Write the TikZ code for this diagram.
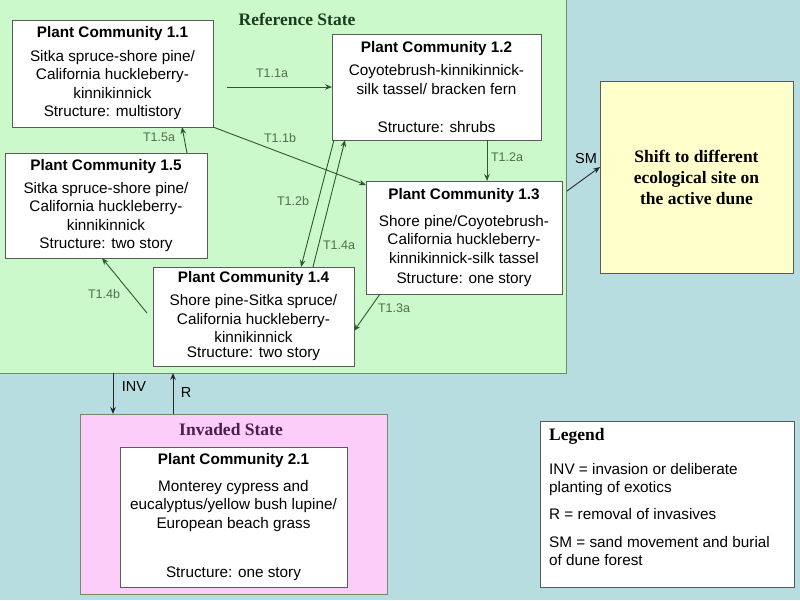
\documentclass[tikz,border=0pt]{standalone}
\usepackage{fontspec}
\setmainfont{Liberation Serif}
\setsansfont{Liberation Sans}
\usetikzlibrary{arrows.meta,calc}
\definecolor{bgblue}{RGB}{184,221,225}
\definecolor{refgreen}{RGB}{204,249,204}
\definecolor{invpink}{RGB}{253,205,250}
\definecolor{lightyel}{RGB}{255,255,204}
\definecolor{boxgray}{RGB}{90,90,90}
\definecolor{regborder}{RGB}{112,138,112}
\definecolor{arrowgreen}{RGB}{44,90,44}
\definecolor{lblgreen}{RGB}{80,110,80}
\definecolor{refdark}{RGB}{30,60,30}
\definecolor{invdark}{RGB}{75,30,75}
\tikzset{
  pcbox/.style={draw=boxgray, line width=0.9pt, fill=white, inner sep=0pt, outer sep=0pt,
    align=center, text=black, font=\sffamily\fontsize{15.3}{18.5}\selectfont},
  region/.style={inner sep=0pt, outer sep=0pt, anchor=north west},
  regtitle/.style={font=\rmfamily\bfseries\fontsize{17.5}{21}\selectfont, inner sep=0pt},
  trans/.style={draw=arrowgreen, line width=0.9pt, -{Stealth[length=7pt,width=5.5pt]}},
  blackarrow/.style={draw=black!85, line width=0.9pt, -{Stealth[length=7pt,width=5.5pt]}},
  tlabel/.style={font=\sffamily\fontsize{12.5}{14}\selectfont, text=lblgreen, inner sep=0pt},
  blabel/.style={font=\sffamily\fontsize{14.5}{16}\selectfont, text=black, inner sep=0pt}
}
\begin{document}
\begin{tikzpicture}[x=1pt,y=-1pt]
\useasboundingbox (0,0) rectangle (800,600);
\fill[bgblue] (0,0) rectangle (800,600);

% regions
\node[region, fill=refgreen, minimum width=566pt, minimum height=373pt] (ref) at (0,0) {};
\draw[regborder, line width=1pt] (ref.north east) -- (ref.south east) -- (ref.south west);
\node[region, fill=invpink, draw=regborder, line width=1pt, minimum width=307pt, minimum height=180pt] (inv) at (80,414) {};

\node[regtitle, text=refdark] (reftitle) at (297,19) {Reference State};
\node[regtitle, text=invdark] (invtitle) at (231,430) {Invaded State};

% plant community boxes
\node[pcbox, minimum width=201pt, minimum height=107pt] (pc11) at (112.5,73.5)
  {\textbf{Plant Community 1.1}\\[5pt] Sitka spruce-shore pine/\\ California huckleberry-\\ kinnikinnick\\ Structure: multistory};
\node[pcbox, minimum width=209pt, minimum height=106pt] (pc12) at (436.5,87)
  {\textbf{Plant Community 1.2}\\[4.5pt] Coyotebrush-kinnikinnick-\\ silk tassel/ bracken fern\\[19.5pt] Structure: shrubs};
\node[pcbox, minimum width=196pt, minimum height=113pt] (pc13) at (464,237.5)
  {\textbf{Plant Community 1.3}\\[8pt] Shore pine/Coyotebrush-\\ California huckleberry-\\ kinnikinnick-silk tassel\\[1.5pt] Structure: one story};
\node[pcbox, minimum width=202pt, minimum height=105pt] (pc15) at (106,205.5)
  {\textbf{Plant Community 1.5}\\[4.5pt] Sitka spruce-shore pine/\\ California huckleberry-\\ kinnikinnick\\ Structure: two story};
\node[pcbox, minimum width=201pt, minimum height=99pt] (pc14) at (253.5,316.5)
  {\textbf{Plant Community 1.4}\\[4.5pt] Shore pine-Sitka spruce/\\ California huckleberry-\\ kinnikinnick\\[-3.5pt] Structure: two story};
\node[pcbox, minimum width=227pt, minimum height=140pt] (pc21) at (233.5,517)
  {\textbf{Plant Community 2.1}\\[8.5pt] Monterey cypress and\\ eucalyptus/yellow bush lupine/\\ European beach grass\\[30.5pt] Structure: one story};

% shift box
\node[pcbox, fill=lightyel, minimum width=193pt, minimum height=192pt,
  font=\rmfamily\bfseries\fontsize{17.5}{21}\selectfont] (shift) at (696.5,177)
  {Shift to different\\ ecological site on\\ the active dune};

% legend
\node[pcbox, minimum width=254pt, minimum height=166pt] (legend) at (667,504) {};
\node[anchor=west, inner sep=0pt, font=\rmfamily\bfseries\fontsize{17.5}{21}\selectfont] (legtitle) at (549,436) {Legend};
\node[anchor=west, align=left, inner sep=0pt, font=\sffamily\fontsize{15.3}{18.5}\selectfont] (legbody) at (549,514.5)
  {INV = invasion or deliberate\\ planting of exotics\\[8.5pt] R = removal of invasives\\[9pt] SM = sand movement and burial\\ of dune forest};

% transitions
\coordinate (t11astart) at (227,87);
\draw[trans] (t11astart) -- (pc12.west);
\node[tlabel] (l11a) at (272,73) {T1.1a};

\draw[trans] (pc11.south east) -- ($(pc13.north west)+(0,4)$);
\node[tlabel] (l11b) at (280,138) {T1.1b};

\draw[trans] ($(pc15.north west)+(182,0)$) -- ($(pc11.south west)+(170,0)$);
\node[tlabel] (l15a) at (159,137) {T1.5a};

\draw[trans] ($(pc12.south west)+(155,0)$) -- ($(pc13.north west)+(121,0)$);
\node[tlabel] (l12a) at (507,157) {T1.2a};

\draw[trans] ($(pc12.south west)+(2,0)$) -- ($(pc14.north west)+(148,0)$);
\node[tlabel] (l12b) at (293,201) {T1.2b};

\draw[trans] ($(pc14.north west)+(160,0)$) -- ($(pc12.south west)+(13,0)$);
\node[tlabel] (l14a) at (339,245) {T1.4a};

\draw[trans] ($(pc13.south west)+(14,0)$) -- ($(pc14.north east)+(0,64)$);
\node[tlabel] (l13a) at (394,308) {T1.3a};

\coordinate (t14bstart) at (147,313);
\draw[trans] (t14bstart) -- ($(pc15.south west)+(97,0)$);
\node[tlabel] (l14b) at (104,294) {T1.4b};

% SM
\draw[blackarrow] ($(pc13.north east)+(5,10)$) -- ($(shift.west)+(0,-10)$);
\node[blabel] (lsm) at (586,159) {SM};

% INV / R
\draw[blackarrow] ($(ref.south west)+(113,0)$) -- ($(inv.north west)+(33,0)$);
\node[blabel] (linv) at (134,387) {INV};
\draw[blackarrow] ($(inv.north west)+(93,0)$) -- ($(ref.south west)+(173,0)$);
\node[blabel] (lr) at (186,393) {R};
\end{tikzpicture}
\end{document}
